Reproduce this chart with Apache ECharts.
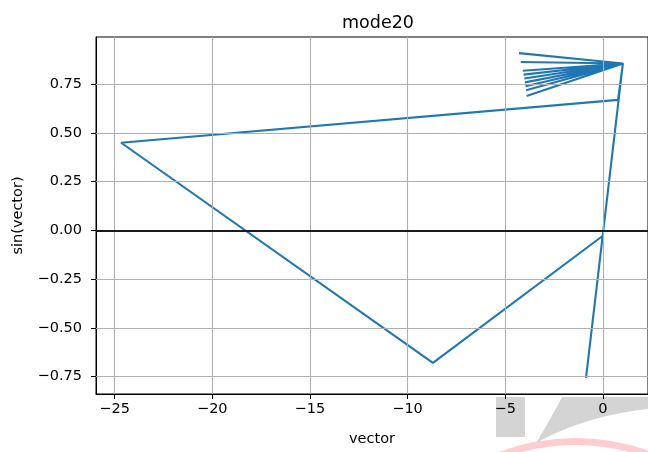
<!DOCTYPE html>
<html>
<head>
<meta charset="utf-8">
<script src="https://cdn.jsdelivr.net/npm/echarts@6/dist/echarts.min.js"></script>
<style>
  html, body { margin: 0; padding: 0; background: #fff; }
  #chart { width: 648px; height: 452px; }
</style>
</head>
<body>
<div id="chart"></div>
<script>
// Path of the iterates: x = vector value, y = sin(vector)
const vectorX = [-0.86, 1.03, -4.29, 1.03, -4.20, 1.03, -4.10, 1.03, -4.06, 1.03, -4.02, 1.03,
                 -3.99, 1.03, -3.96, 1.03, -3.93, 1.03, -3.90, 1.03, 0.78, -24.67, -8.70, -0.03];
const sinY    = [-0.757, 0.857, 0.91, 0.857, 0.865, 0.857, 0.82, 0.857, 0.80, 0.857, 0.78, 0.857,
                 0.76, 0.857, 0.74, 0.857, 0.72, 0.857, 0.69, 0.857, 0.67, 0.45, -0.68, -0.03];

// Tick positions
const xTicks = [-25, -20, -15, -10, -5, 0];
const yTicks = [-0.75, -0.5, -0.25, 0, 0.25, 0.5, 0.75];

// Axis extents (data range plus 5% margins)
const xRange = [-25.955, 2.315];
const yRange = [-0.840, 0.993];

const FONT = '"DejaVu Sans", sans-serif';
const points = vectorX.map((x, i) => [x, sinY[i]]);

const fmtX = v => (v < 0 ? '\u2212' + Math.abs(v) : String(v));
const fmtY = v => (v < 0 ? '\u2212' : '') + Math.abs(v).toFixed(2);

// sample a quadratic bezier (p0 -> p2, control c) into polygon points
function quad(p0, c, p2, n) {
  const pts = [];
  for (let i = 0; i <= n; i++) {
    const t = i / n, u = 1 - t;
    pts.push([u * u * p0[0] + 2 * u * t * c[0] + t * t * p2[0],
              u * u * p0[1] + 2 * u * t * c[1] + t * t * p2[1]]);
  }
  return pts;
}
const greyShape = quad([562, 397], [549, 422], [536, 443], 16)
  .concat(quad([536, 443], [585, 416], [648, 409], 20).slice(1))
  .concat([[648, 397]]);

const chart = echarts.init(document.getElementById('chart'), null, { renderer: 'canvas' });
chart.setOption({
  backgroundColor: '#ffffff',
  animation: false,
  title: {
    text: 'mode20',
    left: 373,
    top: 9,
    textAlign: 'center',
    textStyle: { fontFamily: FONT, fontSize: 17.5, fontWeight: 'normal', color: '#000' }
  },
  grid: {
    left: 96, right: -2, top: 37, bottom: 56,
    show: true, borderColor: '#000', borderWidth: 1, backgroundColor: 'transparent'
  },
  xAxis: {
    type: 'value',
    min: xRange[0], max: xRange[1],
    name: 'vector',
    nameLocation: 'middle',
    nameGap: 38,
    nameTextStyle: { fontFamily: FONT, fontSize: 14.5, color: '#000' },
    axisLine: { show: true, onZero: false, lineStyle: { color: '#000', width: 1 } },
    axisTick: { show: true, length: 5, customValues: xTicks, lineStyle: { color: '#000', width: 1 } },
    axisLabel: {
      customValues: xTicks, margin: 8, formatter: fmtX,
      fontFamily: FONT, fontSize: 14.5, color: '#000'
    },
    splitLine: { show: false }
  },
  yAxis: {
    type: 'value',
    min: yRange[0], max: yRange[1],
    name: 'sin(vector)',
    nameLocation: 'middle',
    nameGap: 70,
    nameTextStyle: { fontFamily: FONT, fontSize: 14.5, color: '#000' },
    axisLine: { show: true, onZero: false, lineStyle: { color: '#000', width: 1 } },
    axisTick: { show: true, length: 5, customValues: yTicks, lineStyle: { color: '#000', width: 1 } },
    axisLabel: {
      customValues: yTicks, margin: 14, formatter: fmtY,
      fontFamily: FONT, fontSize: 14.5, color: '#000'
    },
    splitLine: { show: false }
  },
  graphic: [
    // grey and pink shapes along the lower right edge
    { type: 'rect', z: -5, silent: true,
      shape: { x: 496, y: 397, width: 29, height: 40 },
      style: { fill: '#d4d4d4' } },
    { type: 'polygon', z: -5, silent: true,
      shape: { points: greyShape },
      style: { fill: '#d4d4d4' } },
    { type: 'bezierCurve', z: -5, silent: true,
      shape: { x1: 498, y1: 456, cpx1: 572, cpy1: 428, x2: 648, y2: 454 },
      style: { fill: 'none', stroke: '#ffcdd0', lineWidth: 7 } }
  ],
  series: [
    {
      // grid lines
      type: 'line', data: [], silent: true, z: 1,
      markLine: {
        silent: true, symbol: 'none', label: { show: false }, animation: false,
        lineStyle: { color: '#b0b0b0', width: 1.1, type: 'solid' },
        data: xTicks.map(v => ({ xAxis: v })).concat(yTicks.map(v => ({ yAxis: v })))
      }
    },
    {
      type: 'line',
      data: points,
      showSymbol: false,
      symbol: 'none',
      z: 3,
      lineStyle: { color: '#1f77b4', width: 2.1 },
      markLine: {
        silent: true, symbol: 'none', label: { show: false }, animation: false,
        lineStyle: { color: '#1a1a1a', width: 2.1, type: 'solid' },
        data: [{ yAxis: 0 }]
      }
    }
  ]
});
</script>
</body>
</html>
